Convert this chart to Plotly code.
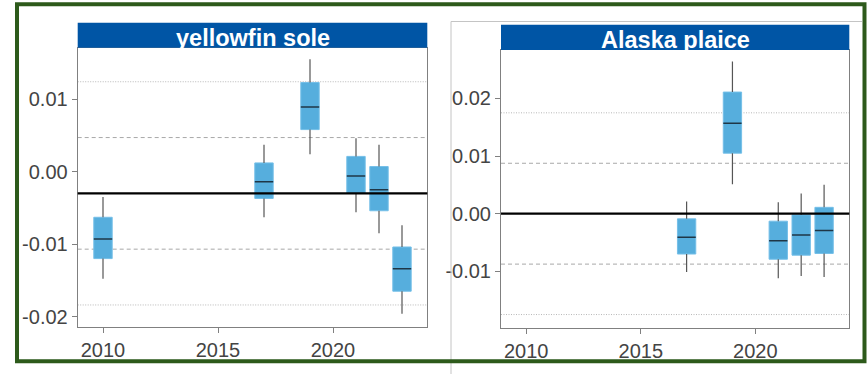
import plotly.graph_objects as go

# ---------------- data ----------------
years_ys = [2010, 2017, 2019, 2021, 2022, 2023]
ys_lower = [-0.0148, -0.0063, 0.0024, -0.0056, -0.0085, -0.0196]
ys_q1 = [-0.0120, -0.0037, 0.0058, -0.0030, -0.0054, -0.0165]
ys_med = [-0.0093, -0.0014, 0.0089, -0.0006, -0.0025, -0.0134]
ys_q3 = [-0.0063, 0.0012, 0.0123, 0.0021, 0.0007, -0.0104]
ys_upper = [-0.0035, 0.0037, 0.0155, 0.0046, 0.0037, -0.0074]
ys_mean = -0.0030
ys_sd = 0.0077

years_ap = [2017, 2019, 2021, 2022, 2023]
ap_lower = [-0.0101, 0.0051, -0.0112, -0.0108, -0.0110]
ap_q1 = [-0.0070, 0.0105, -0.0079, -0.0072, -0.0069]
ap_med = [-0.0041, 0.0157, -0.0047, -0.0037, -0.0029]
ap_q3 = [-0.0009, 0.0211, -0.0013, -0.0002, 0.0011]
ap_upper = [0.0021, 0.0264, 0.0020, 0.0035, 0.0050]
ap_mean = 0.0
ap_sd = 0.00875

panel_titles = ["yellowfin sole", "Alaska plaice"]
x_tickvals = [2010, 2015, 2020]
ys_tickvals = [-0.02, -0.01, 0.0, 0.01]
ys_ticktext = ["-0.02", "-0.01", "0.00", "0.01"]
ap_tickvals = [-0.01, 0.0, 0.01, 0.02]
ap_ticktext = ["-0.01", "0.00", "0.01", "0.02"]

# ---------------- style ----------------
W, H = 868, 374
BOX_W = 0.8
FILL = "#56AEDD"
EDGE = "#74BFE8"
MED = "#1F3646"
WHISK = "#555555"
FONT = "Liberation Sans, Arial, sans-serif"
TICKC = "#444444"


def px(x):
    return x / W


def py(y):
    return 1 - y / H


fig = go.Figure()


def add_panel(years, lo, q1, med, q3, up, xa, ya):
    fig.add_trace(go.Bar(
        x=years, y=[b - a for a, b in zip(q1, q3)], base=q1, width=BOX_W,
        marker=dict(color=FILL, line=dict(color=EDGE, width=1)),
        xaxis=xa, yaxis=ya, showlegend=False, hoverinfo="skip"))
    wx, wy = [], []
    for yr, a, b, c, d in zip(years, lo, q1, q3, up):
        wx += [yr, yr, None, yr, yr, None]
        wy += [c, d, None, b, a, None]
    fig.add_trace(go.Scatter(x=wx, y=wy, mode="lines",
                             line=dict(color=WHISK, width=1.2),
                             xaxis=xa, yaxis=ya, showlegend=False,
                             hoverinfo="skip"))
    mx, my = [], []
    for yr, m in zip(years, med):
        mx += [yr - BOX_W / 2, yr + BOX_W / 2, None]
        my += [m, m, None]
    fig.add_trace(go.Scatter(x=mx, y=my, mode="lines",
                             line=dict(color=MED, width=1.5),
                             xaxis=xa, yaxis=ya, showlegend=False,
                             hoverinfo="skip"))


add_panel(years_ys, ys_lower, ys_q1, ys_med, ys_q3, ys_upper, "x", "y")
add_panel(years_ap, ap_lower, ap_q1, ap_med, ap_q3, ap_upper, "x2", "y2")

shapes = []


def ref_lines(mean, sd, xref, yref):
    for k, dash, col in [(1, "4px,3px", "#A8A8A8"), (-1, "4px,3px", "#A8A8A8"),
                         (2, "1px,1.5px", "#B8B8B8"), (-2, "1px,1.5px", "#B8B8B8")]:
        shapes.append(dict(type="line", xref=xref + " domain", yref=yref,
                           x0=0, x1=1, y0=mean + k * sd, y1=mean + k * sd,
                           line=dict(color=col, width=1, dash=dash), layer="below"))
    shapes.append(dict(type="line", xref=xref + " domain", yref=yref,
                       x0=0, x1=1, y0=mean, y1=mean,
                       line=dict(color="black", width=2.2), layer="above"))


ref_lines(ys_mean, ys_sd, "x", "y")
ref_lines(ap_mean, ap_sd, "x2", "y2")

# panel geometry (pixels)
L1 = (77.7, 427.3, 47.7, 326.7, 22.7)   # x0, x1, ytop, ybottom, strip top
L2 = (501.0, 849.3, 50.0, 327.8, 24.8)

# strips
for (x0, x1, yt, yb, st), title in zip([L1, L2], panel_titles):
    shapes.append(dict(type="rect", xref="paper", yref="paper",
                       x0=px(x0), x1=px(x1), y0=py(yt), y1=py(st),
                       fillcolor="#0055A5", line=dict(width=0), layer="above"))
    fig.add_annotation(x=px((x0 + x1) / 2), y=py(yt - 9.5), xref="paper", yref="paper",
                       text="<b>" + title + "</b>", showarrow=False,
                       font=dict(family=FONT, size=23.5, color="white"),
                       xanchor="center", yanchor="middle")

# frame of the second image
shapes.append(dict(type="line", xref="paper", yref="paper",
                   x0=px(451), x1=px(451), y0=py(21.5), y1=py(374),
                   line=dict(color="#C4C4C4", width=1)))
shapes.append(dict(type="line", xref="paper", yref="paper",
                   x0=px(451), x1=px(862), y0=py(21.5), y1=py(21.5),
                   line=dict(color="#C4C4C4", width=1)))
# green border
shapes.append(dict(type="rect", xref="paper", yref="paper",
                   x0=px(17), x1=px(864.5), y0=py(361.3), y1=py(4.3),
                   line=dict(color="#2D5A1B", width=4), fillcolor="rgba(0,0,0,0)"))

axis_common = dict(showgrid=False, zeroline=False, showline=True, mirror=True,
                   linecolor="#808080", linewidth=1, ticks="outside",
                   ticklen=5, tickcolor="#808080",
                   tickfont=dict(family=FONT, size=20, color=TICKC))

fig.update_layout(
    width=W, height=H, autosize=False,
    margin=dict(l=0, r=0, t=0, b=0),
    paper_bgcolor="white", plot_bgcolor="white",
    barmode="overlay", showlegend=False,
    shapes=shapes,
    xaxis=dict(domain=[px(L1[0]), px(L1[1])], range=[2008.9, 2024.1],
               tickvals=x_tickvals, anchor="y", **axis_common),
    yaxis=dict(domain=[py(L1[3]), py(L1[2])], range=[-0.0214, 0.0171],
               tickvals=ys_tickvals, ticktext=ys_ticktext, anchor="x", **axis_common),
    xaxis2=dict(domain=[px(L2[0]), px(L2[1])], range=[2008.9, 2024.1],
                tickvals=x_tickvals, anchor="y2", **axis_common),
    yaxis2=dict(domain=[py(L2[3]), py(L2[2])], range=[-0.0198, 0.0284],
                tickvals=ap_tickvals, ticktext=ap_ticktext, anchor="x2", **axis_common),
)

fig.write_html("out.html", config={"displayModeBar": False},
               post_script="document.body.style.margin='0';")
